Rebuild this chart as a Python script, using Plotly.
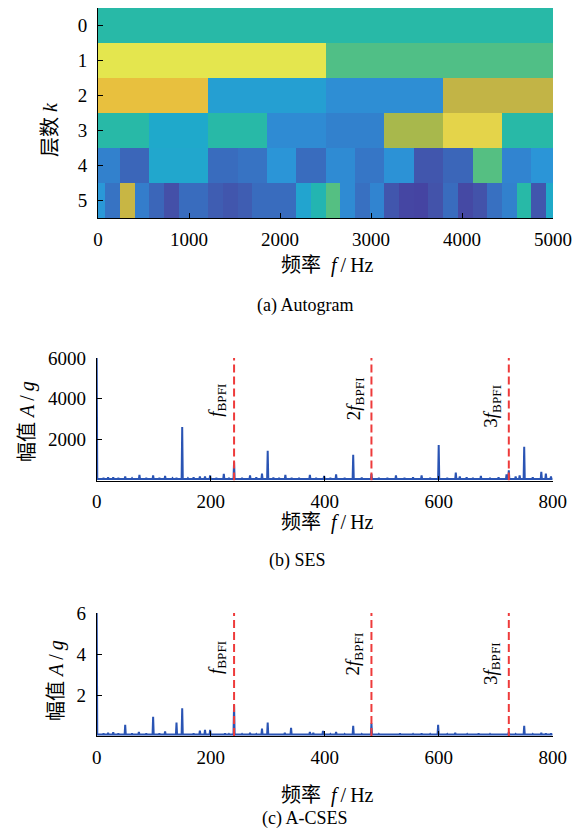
import numpy as np
import plotly.graph_objects as go

# ---------------- data ----------------
# (a) Autogram: normalised band values for levels k = 0..5 (finest level has 32 bands)
level_k = [0, 1, 2, 3, 4, 5]
level0 = [0.48]
level1 = [1.00, 0.57]
level2 = [0.82, 0.33, 0.27, 0.735]
level3 = [0.48, 0.37, 0.48, 0.26, 0.23, 0.68, 0.90, 0.48]
level4 = [0.23, 0.15, 0.36, 0.36, 0.17, 0.19, 0.29, 0.17,
          0.26, 0.20, 0.28, 0.10, 0.15, 0.58, 0.24, 0.29]
level5 = [0.30, 0.19, 0.75, 0.22, 0.15, 0.08, 0.17, 0.17,
          0.12, 0.10, 0.12, 0.17, 0.17, 0.17, 0.35, 0.45,
          0.58, 0.26, 0.18, 0.24, 0.10, 0.04, 0.03, 0.09,
          0.17, 0.05, 0.09, 0.18, 0.23, 0.48, 0.10, 0.38]
autogram_fmax = 5000
autogram_xticks = [0, 1000, 2000, 3000, 4000, 5000]

# (b) SES: peak frequencies (Hz) and amplitudes
ses_freq = [0, 12, 20, 29, 38, 50, 62, 75, 87, 99, 110, 120, 133, 140, 150, 160, 170,
            181, 190, 199, 210, 223, 232, 241, 255, 269, 280, 290, 300, 310, 320, 331,
            342, 355, 374, 385, 399, 410, 420, 435, 450, 465, 482, 495, 510, 525, 540,
            555, 570, 585, 600, 615, 630, 637, 649, 660, 674, 690, 705, 719, 723, 735,
            742, 750, 765, 780, 788, 797]
ses_amp = [6000, 120, 150, 150, 120, 200, 110, 270, 120, 250, 130, 230, 110, 130, 2620, 110, 150,
           200, 200, 250, 120, 320, 130, 920, 120, 250, 150, 340, 1460, 140, 120, 270,
           130, 120, 280, 120, 230, 120, 300, 130, 1260, 140, 320, 130, 120, 250, 130,
           150, 250, 130, 1740, 130, 390, 200, 160, 130, 220, 130, 160, 300, 500, 200,
           250, 1650, 150, 430, 340, 200]
ses_floor = 70

# (c) A-CSES: peak frequencies (Hz) and amplitudes
acses_freq = [0, 12, 20, 29, 38, 50, 62, 74, 87, 99, 110, 120, 133, 140, 150, 160, 170,
              181, 190, 199, 210, 225, 232, 241, 255, 269, 280, 290, 300, 310, 320, 330,
              341, 355, 374, 380, 397, 410, 420, 435, 450, 465, 482, 495, 510, 532, 555,
              570, 585, 599, 615, 629, 650, 670, 690, 705, 723, 735, 750, 765, 780, 788, 797]
acses_amp = [6, 0.12, 0.15, 0.18, 0.12, 0.55, 0.12, 0.20, 0.12, 0.94, 0.12, 0.22, 0.10, 0.66, 1.35, 0.10, 0.12,
             0.26, 0.30, 0.30, 0.10, 0.12, 0.10, 1.52, 0.10, 0.15, 0.10, 0.36, 0.66, 0.10, 0.10, 0.15,
             0.40, 0.10, 0.20, 0.15, 0.25, 0.10, 0.20, 0.10, 0.50, 0.10, 0.62, 0.10, 0.10, 0.12, 0.10,
             0.12, 0.10, 0.55, 0.10, 0.15, 0.10, 0.12, 0.10, 0.10, 0.20, 0.10, 0.50, 0.10, 0.15, 0.12, 0.12]
acses_floor = 0.07

f_bpfi = 241
bpfi_orders = [1, 2, 3]
bpfi_labels = ["<i>f</i><sub>BPFI</sub>", "2<i>f</i><sub>BPFI</sub>", "3<i>f</i><sub>BPFI</sub>"]
spec_xticks = [0, 200, 400, 600, 800]
ses_yticks = [2000, 4000, 6000]
acses_yticks = [2, 4, 6]

# ---------------- style ----------------
W, H = 566, 821          # page body keeps an 8 px margin
OFF = 8
SERIF = "Liberation Serif, Times New Roman, Noto Sans CJK SC, serif"
BLUE = "#2a54b4"
RED = "#ee3b3b"
parula_print = [
    [0.00, "#463c9e"], [0.08, "#4450a8"], [0.15, "#3b66b9"], [0.20, "#3676c6"],
    [0.25, "#3088d2"], [0.30, "#2a98d8"], [0.37, "#1fa9cb"], [0.44, "#21b3b4"],
    [0.50, "#2bbca0"], [0.58, "#55bf82"], [0.68, "#a8b84c"], [0.74, "#c4b445"],
    [0.82, "#e8c03e"], [0.90, "#e4d44a"], [1.00, "#e4e64e"],
]


def px_x(p):
    return min(1.0, max(0.0, (p - OFF) / W))


def px_y(p):
    return min(1.0, max(0.0, 1 - (p - OFF) / H))


# ---------------- figure ----------------
fig = go.Figure()

levels = [level0, level1, level2, level3, level4, level5]
ncol = len(level5)
x_cols = np.linspace(0, autogram_fmax, ncol)
z = [np.repeat(lv, ncol // len(lv)) for lv in levels]
fig.add_trace(go.Heatmap(x=x_cols, y=level_k, z=z, colorscale=parula_print,
                         zmin=0, zmax=1, showscale=False, xaxis="x", yaxis="y"))


def stick(freqs, amps, floor, hw=1.0):
    xs, ys = [], []
    for f, a in zip(freqs, amps):
        if f == 0:
            xs += [f, f + hw]
            ys += [a, floor]
        else:
            xs += [f - hw, f, f + hw]
            ys += [floor, a, floor]
    xs.append(800)
    ys.append(floor)
    return xs, ys


sx, sy = stick(ses_freq, ses_amp, ses_floor)
fig.add_trace(go.Scatter(x=sx, y=sy, mode="lines", line=dict(color=BLUE, width=2),
                         xaxis="x2", yaxis="y2", showlegend=False))
cx, cy = stick(acses_freq, acses_amp, acses_floor)
fig.add_trace(go.Scatter(x=cx, y=cy, mode="lines", line=dict(color=BLUE, width=2),
                         xaxis="x3", yaxis="y3", showlegend=False))

for k in bpfi_orders:
    fig.add_trace(go.Scatter(x=[k * f_bpfi, k * f_bpfi], y=[0, 6000], mode="lines",
                             line=dict(color=RED, width=2, dash="8px,4px"),
                             xaxis="x2", yaxis="y2", showlegend=False))
    fig.add_trace(go.Scatter(x=[k * f_bpfi, k * f_bpfi], y=[0, 6], mode="lines",
                             line=dict(color=RED, width=2, dash="8px,4px"),
                             xaxis="x3", yaxis="y3", showlegend=False))

tickfont = dict(family=SERIF, size=19, color="black")
axis_common = dict(showline=True, linecolor="black", linewidth=1, ticks="inside",
                   ticklen=5, tickcolor="black", tickfont=tickfont, showgrid=False,
                   zeroline=False, mirror=False, automargin=False)

fig.update_layout(
    template="none",
    width=W, height=H, margin=dict(l=0, r=0, t=0, b=0, pad=0, autoexpand=False),
    paper_bgcolor="white", plot_bgcolor="white", showlegend=False,
    xaxis=dict(domain=[px_x(98), px_x(553)], range=[0, autogram_fmax], tickvals=autogram_xticks,
               anchor="y", ticklabelstandoff=4, **axis_common),
    yaxis=dict(domain=[px_y(218), px_y(8)], range=[5.5, -0.5], tickvals=level_k,
               anchor="x", ticklabelstandoff=6, **axis_common),
    xaxis2=dict(domain=[px_x(96.7), px_x(552.7)], range=[0, 800], tickvals=spec_xticks,
                anchor="y2", ticklabelstandoff=4, **axis_common),
    yaxis2=dict(domain=[px_y(480.5), px_y(358)], range=[0, 6000], tickvals=ses_yticks,
                anchor="x2", ticklabelstandoff=6, **axis_common),
    xaxis3=dict(domain=[px_x(96.7), px_x(552.7)], range=[0, 800], tickvals=spec_xticks,
                anchor="y3", ticklabelstandoff=4, **axis_common),
    yaxis3=dict(domain=[px_y(736), px_y(613)], range=[0, 6], tickvals=acses_yticks,
                anchor="x3", ticklabelstandoff=6, **axis_common),
)

ann = []
tfont = dict(family=SERIF, size=20, color="black")
cfont = dict(family=SERIF, size=18, color="black")
xtitle = "频率\u2002<i>f</i>\u2009/\u2009Hz"
ytitle_amp = "幅值 <i>A</i>\u2009/\u2009<i>g</i>"
ann.append(dict(text="层数 <i>k</i>", x=px_x(50), y=px_y(130), textangle=-90, font=tfont))
ann.append(dict(text=xtitle, x=px_x(327), y=px_y(265), font=tfont))
ann.append(dict(text="(a) Autogram", x=px_x(305), y=px_y(305), font=cfont))
ann.append(dict(text=ytitle_amp, x=px_x(27), y=px_y(422), textangle=-90, font=tfont))
ann.append(dict(text=xtitle, x=px_x(327), y=px_y(522), font=tfont))
ann.append(dict(text="(b) SES", x=px_x(297), y=px_y(560), font=cfont))
ann.append(dict(text=ytitle_amp, x=px_x(56), y=px_y(681), textangle=-90, font=tfont))
ann.append(dict(text=xtitle, x=px_x(327), y=px_y(795), font=tfont))
ann.append(dict(text="(c) A-CSES", x=px_x(305), y=px_y(818), font=cfont))
for a in ann:
    a.update(xref="paper", yref="paper", showarrow=False, xanchor="center", yanchor="middle")

lab_font = dict(family=SERIF, size=19, color="black")
ses_label_y = [3000, 2850, 2500]
acses_label_y = [2.9, 2.85, 2.4]
for k, lab, yb, yc in zip(bpfi_orders, bpfi_labels, ses_label_y, acses_label_y):
    ann.append(dict(text=lab, x=k * f_bpfi, y=yb, xref="x2", yref="y2", textangle=-90,
                    xanchor="right", yanchor="bottom", xshift=-3, showarrow=False, font=lab_font))
    ann.append(dict(text=lab, x=k * f_bpfi, y=yc, xref="x3", yref="y3", textangle=-90,
                    xanchor="right", yanchor="bottom", xshift=-3, showarrow=False, font=lab_font))

fig.update_layout(annotations=ann)
fig.write_html("out.html")
